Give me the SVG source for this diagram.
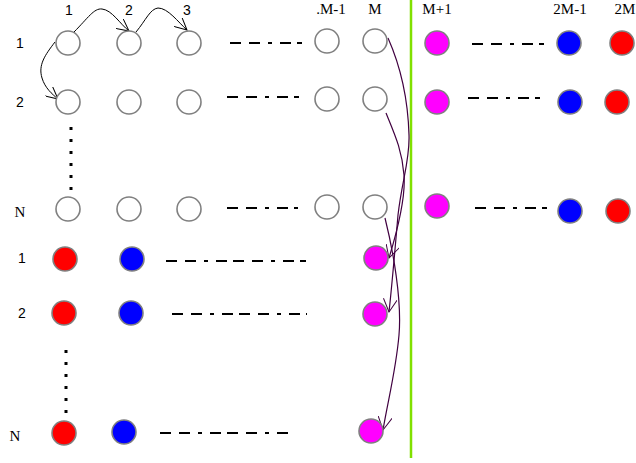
<svg xmlns="http://www.w3.org/2000/svg" width="636" height="463" viewBox="0 0 636 463">
<style>
.c{stroke:#808080;stroke-width:1.6}
.e{fill:#fff}
.m{fill:#ff00ff}
.b{fill:#0000ff}
.r{fill:#ff0000}
.d{stroke:#000;stroke-width:2;fill:none;stroke-dasharray:11,8,11,8,4,8,11,6}
.v{stroke:#000;stroke-width:3;fill:none;stroke-dasharray:3,9}
.s{font-family:"Liberation Sans",Arial,sans-serif;font-size:14px;fill:#000}
.t{font-family:"Liberation Serif","Times New Roman",serif;font-size:15px;fill:#000}
.k{stroke:#000;stroke-width:1;fill:none}
.p{stroke:#400040;stroke-width:1.2;fill:none}
</style>
<defs>
<marker id="ak" markerWidth="14" markerHeight="12" refX="12" refY="6" orient="auto" markerUnits="userSpaceOnUse"><path d="M0,0 L12,6 L0,12" fill="none" stroke="#000" stroke-width="1"/></marker>
<marker id="ap" markerWidth="14" markerHeight="14" refX="13" refY="7" orient="auto" markerUnits="userSpaceOnUse"><path d="M0,0 L13,7 L0,14" fill="none" stroke="#400040" stroke-width="1"/></marker>
</defs>
<rect width="636" height="463" fill="#fff"/>
<line x1="411" y1="0" x2="411" y2="458" stroke="#80e000" stroke-width="2.5"/>
<g id="labels">
<text class="s" x="69" y="15" text-anchor="middle">1</text>
<text class="s" x="129" y="15" text-anchor="middle">2</text>
<text class="s" x="187" y="15" text-anchor="middle">3</text>
<text class="t" x="331" y="14" text-anchor="middle">.M-1</text>
<text class="t" x="375" y="14" text-anchor="middle">M</text>
<text class="t" x="437" y="14" text-anchor="middle" fill="#602050">M+1</text>
<text class="t" x="570" y="14" text-anchor="middle">2M-1</text>
<text class="t" x="625" y="14" text-anchor="middle">2M</text>
<text class="s" x="20" y="48" text-anchor="middle">1</text>
<text class="s" x="20" y="107" text-anchor="middle">2</text>
<text class="t" x="20" y="217" text-anchor="middle">N</text>
<text class="s" x="22" y="263" text-anchor="middle">1</text>
<text class="s" x="22" y="318" text-anchor="middle">2</text>
<text class="t" x="15" y="441" text-anchor="middle">N</text>
</g>
<g id="connectors">
<path class="k" d="M74,32 C88,18 94,8 102,9 C112,10 120,24 129,31" marker-end="url(#ak)"/>
<path class="k" d="M136,32 C146,20 150,9 158,8 C168,8 178,22 187,30" marker-end="url(#ak)"/>
<path class="k" d="M55,42 C45,55 38,65 42,78 C45,88 52,94 58,99" marker-end="url(#ak)"/>
<line class="v" x1="71" y1="127" x2="71" y2="196"/>
<line class="v" x1="66" y1="350" x2="66" y2="418"/>
<path class="p" d="M388,38 C400,65 408,100 409,135 C410,160 402,180 398,215 C395,250 392,285 389,312" marker-end="url(#ap)"/>
<path class="p" d="M386,113 C395,135 402,150 404,175 C406,200 396,235 389,258" marker-end="url(#ap)"/>
<path class="p" d="M385,218 C393,250 402,300 399,335 C396,370 388,400 383,430" marker-end="url(#ap)"/>
<line class="d" x1="230" y1="43" x2="302" y2="43"/>
<line class="d" x1="227" y1="97" x2="299" y2="97"/>
<line class="d" x1="227" y1="208" x2="298" y2="208"/>
<line class="d" x1="166" y1="261" x2="306" y2="261"/>
<line class="d" x1="172" y1="314" x2="307" y2="314"/>
<line class="d" x1="160" y1="433" x2="293" y2="433"/>
<line class="d" x1="472" y1="44" x2="544" y2="44"/>
<line class="d" x1="468" y1="98" x2="540" y2="98"/>
<line class="d" x1="475" y1="208" x2="547" y2="208"/>
</g>
<g id="row1">
<circle class="c e" cx="68" cy="43" r="12"/>
<circle class="c e" cx="129" cy="43" r="12"/>
<circle class="c e" cx="189" cy="43" r="12"/>
<circle class="c e" cx="327" cy="41" r="12"/>
<circle class="c e" cx="375" cy="41" r="12"/>
<circle class="c m" cx="437" cy="43" r="12"/>
<circle class="c b" cx="569" cy="43" r="12"/>
<circle class="c r" cx="622" cy="43" r="12"/>
</g>
<g id="row2">
<circle class="c e" cx="68" cy="102" r="12"/>
<circle class="c e" cx="129" cy="102" r="12"/>
<circle class="c e" cx="189" cy="102" r="12"/>
<circle class="c e" cx="327" cy="99" r="12"/>
<circle class="c e" cx="375" cy="99" r="12"/>
<circle class="c m" cx="437" cy="102" r="12"/>
<circle class="c b" cx="570" cy="102" r="12"/>
<circle class="c r" cx="617" cy="102" r="12"/>
</g>
<g id="rowN">
<circle class="c e" cx="68" cy="209" r="12"/>
<circle class="c e" cx="129" cy="209" r="12"/>
<circle class="c e" cx="189" cy="209" r="12"/>
<circle class="c e" cx="327" cy="207" r="12"/>
<circle class="c e" cx="375" cy="207" r="12"/>
<circle class="c m" cx="437" cy="206" r="12"/>
<circle class="c b" cx="570" cy="211" r="12"/>
<circle class="c r" cx="618" cy="211" r="12"/>
</g>
<g id="lower1">
<circle class="c r" cx="65" cy="259" r="12"/>
<circle class="c b" cx="132" cy="259" r="12"/>
<circle class="c m" cx="376" cy="258" r="12"/>
</g>
<g id="lower2">
<circle class="c r" cx="64" cy="313" r="12"/>
<circle class="c b" cx="131" cy="313" r="12"/>
<circle class="c m" cx="375" cy="314" r="12"/>
</g>
<g id="lowerN">
<circle class="c r" cx="64" cy="433" r="12"/>
<circle class="c b" cx="124" cy="432" r="12"/>
<circle class="c m" cx="371" cy="431" r="12"/>
</g>
</svg>
